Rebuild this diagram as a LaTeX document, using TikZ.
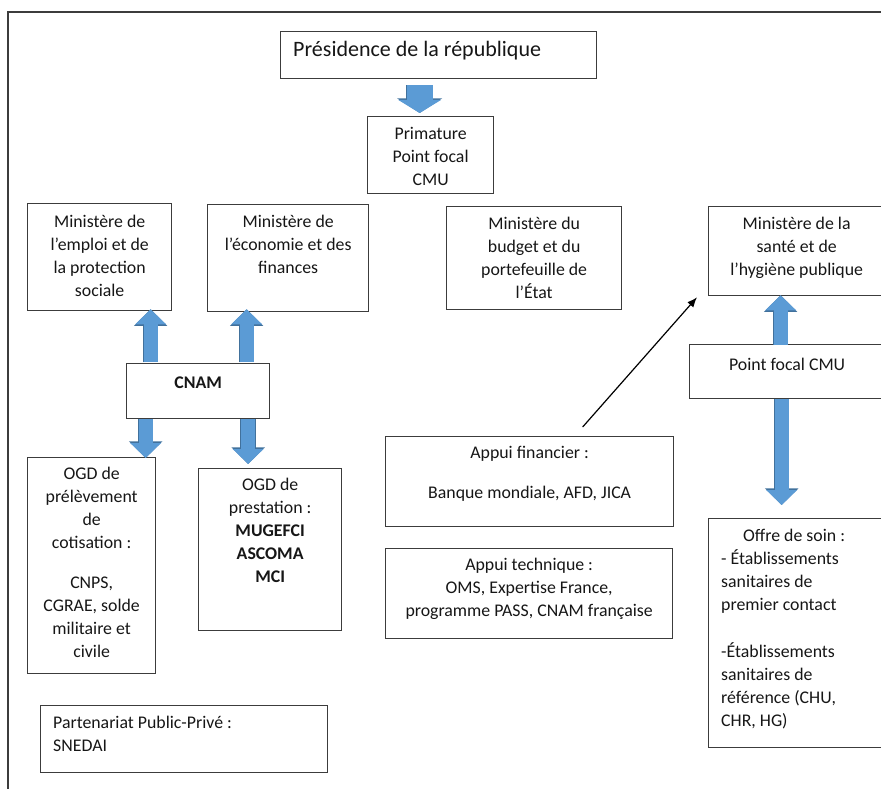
\documentclass[tikz,border=0pt]{standalone}
\usepackage{fontspec}
\setmainfont{Carlito}
\usetikzlibrary{
    arrows.meta,
    calc,
    positioning
}
\definecolor{boxline}{HTML}{3C3C3C}
\definecolor{arrowblue}{HTML}{5B9BD5}
\definecolor{arrowedge}{HTML}{41719C}
\definecolor{ink}{HTML}{161616}
\tikzset{
    frame/.style={draw=boxline, line width=1.3pt},
    box/.style={draw=boxline, line width=1.3pt, inner sep=0pt, anchor=north west},
    boxtext/.style={anchor=north, align=center, inner sep=0pt, text=ink,
        font=\fontsize{17.8}{23}\selectfont, execute at begin node=\strut},
    lefttext/.style={boxtext, anchor=north west, align=left},
    blockarrow/.style={line width=14pt, draw=arrowblue,
        -{Triangle[length=15pt,width=30pt]},
        preaction={draw=arrowedge, line width=15.6pt,
            -{Triangle[length=16.6pt,width=32.4pt]}}},
    wideblockarrow/.style={line width=26pt, draw=arrowblue,
        -{Triangle[length=13pt,width=42pt]},
        preaction={draw=arrowedge, line width=27.6pt,
            -{Triangle[length=14.6pt,width=44.4pt]}}},
    thinarrow/.style={-{Latex[length=10pt,width=8pt]}, line width=1.2pt, draw=black}
}

\begin{document}
\begin{tikzpicture}[x=1pt, y=-1pt]
    \useasboundingbox (0,0) rectangle (881,789);
    \clip (0,0) rectangle (881,789);
    \draw[frame] (8,12) rectangle (900,810);

    % boxes
    \node[box, minimum width=316pt, minimum height=47pt] (pres) at (280,31) {};
    \node[box, minimum width=126pt, minimum height=77pt] (prim) at (367,116) {};
    \node[box, minimum width=144pt, minimum height=107pt] (emploi) at (27,203) {};
    \node[box, minimum width=161pt, minimum height=107pt] (econ) at (207,204) {};
    \node[box, minimum width=175pt, minimum height=103pt] (budget) at (446,206) {};
    \node[box, minimum width=176pt, minimum height=89pt] (sante) at (708,206) {};
    \node[box, minimum width=143pt, minimum height=55pt] (cnam) at (126,363) {};
    \node[box, minimum width=195pt, minimum height=54pt] (focal) at (689,344) {};
    \node[box, minimum width=288pt, minimum height=90pt] (fin) at (385,436) {};
    \node[box, minimum width=287pt, minimum height=90pt] (tech) at (385,548) {};
    \node[box, minimum width=128pt, minimum height=216pt] (prel) at (27,457) {};
    \node[box, minimum width=143pt, minimum height=162pt] (prest) at (198,468) {};
    \node[box, minimum width=287pt, minimum height=67pt] (ppp) at (40,705) {};
    \node[box, minimum width=176pt, minimum height=229pt] (offre) at (708,518) {};

    % texts
    \node[lefttext, font=\fontsize{22}{27}\selectfont] (pres-t) at ($(pres.north west)+(13,6.3)$) {Présidence de la république};
    \node[boxtext] (prim-t) at ($(prim.north)+(0,11.4)$) {Primature\\Point focal\\CMU};
    \node[boxtext] (emploi-t) at ($(emploi.north)+(0,11.8)$) {Ministère de\\l’emploi et de\\la protection\\sociale};
    \node[boxtext] (econ-t) at ($(econ.north)+(0,11.4)$) {Ministère de\\l’économie et des\\finances};
    \node[boxtext] (budget-t) at ($(budget.north)+(0,11.4)$) {Ministère du\\budget et du\\portefeuille de\\l’État};
    \node[boxtext] (sante-t) at ($(sante.north)+(0,11.4)$) {Ministère de la\\santé et de\\l’hygiène publique};
    \node[boxtext] (cnam-t) at ($(cnam.north)+(0,9)$) {\textbf{CNAM}};
    \node[boxtext] (focal-t) at ($(focal.north)+(0,10.4)$) {Point focal CMU};
    \node[boxtext] (fin-t) at ($(fin.north)+(0,10.4)$) {Appui financier :\\[17pt]Banque mondiale, AFD, JICA};
    \node[boxtext] (tech-t) at ($(tech.north)+(0,10.4)$) {Appui technique :\\OMS, Expertise France,\\programme PASS, CNAM française};
    \node[boxtext] (prel-t) at ($(prel.north)+(0,10.4)$) {OGD de\\prélèvement\\de\\cotisation :\\[17pt]CNPS,\\CGRAE, solde\\militaire et\\civile};
    \node[boxtext] (prest-t) at ($(prest.north)+(0,10.4)$) {OGD de\\prestation :\\\textbf{MUGEFCI}\\\textbf{ASCOMA}\\\textbf{MCI}};
    \node[lefttext] (ppp-t) at ($(ppp.north west)+(13,11)$) {Partenariat Public-Privé :\\SNEDAI};
    \node[lefttext] (offre-t) at ($(offre.north west)+(13,11)$) {\hspace*{22pt}Offre de soin :\\- Établissements\\sanitaires de\\premier contact\\[24pt]-Établissements\\sanitaires de\\référence (CHU,\\CHR, HG)};

    % arrows
    \draw[wideblockarrow] ($(pres.south)+(-19,6)$) -- ($(prim.north)+(-11,-3)$);
    \draw[blockarrow] ($(cnam.north)+(-47.5,-1)$) -- ($(emploi.south)+(51,-2)$);
    \draw[blockarrow] ($(cnam.north)+(48.5,-1)$) -- ($(econ.south)+(-41.5,-3)$);
    \draw[blockarrow] ($(cnam.south)+(-52.5,0)$) -- ($(prel.north)+(54,1)$);
    \draw[blockarrow] ($(cnam.south)+(50,0)$) -- ($(prest.north)+(-22,-4)$);
    \draw[blockarrow] ($(focal.north)+(-6.5,1)$) -- ($(sante.south)+(-16,-1)$);
    \draw[blockarrow] ($(focal.south)+(-5.5,0)$) -- ($(offre.north)+(-15,-13)$);
    \draw[thinarrow] ($(fin.north)+(53,-9)$) -- ($(sante.south west)+(-11,1)$);
\end{tikzpicture}
\end{document}
